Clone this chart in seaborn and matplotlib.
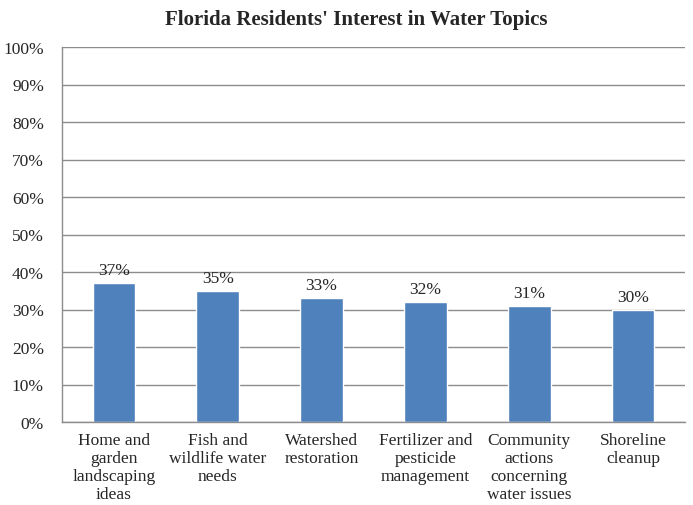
import matplotlib
matplotlib.use("Agg")
import matplotlib.pyplot as plt
import seaborn as sns
import pandas as pd

categories = ["Home and\ngarden\nlandscaping\nideas", "Fish and\nwildlife water\nneeds",
              "Watershed\nrestoration", "Fertilizer and\npesticide\nmanagement",
              "Community\nactions\nconcerning\nwater issues", "Shoreline\ncleanup"]
values = [37, 35, 33, 32, 31, 30]
yticks = [0, 10, 20, 30, 40, 50, 60, 70, 80, 90, 100]
title = "Florida Residents' Interest in Water Topics"

sns.set_theme(style="white")
plt.rcParams['font.family'] = ['Liberation Serif', 'DejaVu Serif']

df = pd.DataFrame({"cat": categories, "val": values})
fig = plt.figure(figsize=(6.93, 5.06), dpi=100)
ax = fig.add_axes([62/693, 1-423/506, (685-62)/693, (423-48)/506])
sns.barplot(data=df, x="cat", y="val", color="#4F81BD", saturation=1, width=0.41, ax=ax)
ax.set_ylim(0, 100)
ax.set_yticks(yticks)
ax.set_yticklabels([f"{t}%" for t in yticks], fontsize=12.5)
ax.set_xlim(-0.5, len(categories) - 0.5)
ax.yaxis.grid(True, color="#8c8c8c", linewidth=1)
ax.set_axisbelow(True)
ax.set_xlabel("")
ax.set_ylabel("")
ax.tick_params(axis="x", labelsize=12.5, pad=7, length=0)
ax.tick_params(axis="y", pad=13, length=0)
for lab in ax.get_xticklabels():
    lab.set_linespacing(1.18)
for s in ["top", "right"]:
    ax.spines[s].set_visible(False)
for s in ["left", "bottom"]:
    ax.spines[s].set_color("#8c8c8c")
    ax.spines[s].set_linewidth(1)
for i, v in enumerate(values):
    ax.text(i, v + 1.3, f"{v}%", ha="center", va="bottom", fontsize=12.5)
fig.text(356/693, 1 - 20/506, title, ha="center", va="center",
         fontsize=15, fontweight="bold")
fig.savefig("out.png", dpi=100)
